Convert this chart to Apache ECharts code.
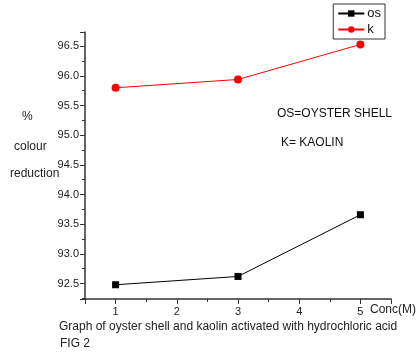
<!DOCTYPE html>
<html><head><meta charset="utf-8">
<script src="https://cdn.jsdelivr.net/npm/echarts@6/dist/echarts.min.js"></script>
<style>html,body{margin:0;padding:0;background:#fff}#c{width:416px;height:358px}</style>
</head><body><div id="c"></div>
<script>
const conc = [1, 3, 5];
const osValues = [92.48, 92.62, 93.66];
const kValues = [95.80, 95.94, 96.53];
const seriesNames = ['os', 'k'];

const chart = echarts.init(document.getElementById('c'));
const F = '"Liberation Sans", Arial, sans-serif';
const axisCol = '#333';
chart.setOption({
  animation: false,
  grid: {left: 85, right: 25, top: 32, bottom: 59},
  legend: {
    right: 31, top: 4, orient: 'vertical', itemGap: 3, itemWidth: 26, itemHeight: 8,
    padding: [3, 4, 3, 4], borderColor: '#333', borderWidth: 1,
    textStyle: {fontFamily: F, fontSize: 13, color: '#111', padding: [0,0,0,-2]},
    data: seriesNames
  },
  xAxis: {
    type: 'value', min: 0.5, max: 5.5, splitNumber: 5,
    axisLine: {lineStyle: {color: axisCol, width: 1.5}},
    axisTick: {length: 5, lineStyle: {color: axisCol}},
    minorTick: {show: true, splitNumber: 2, length: 3, lineStyle: {color: axisCol}},
    splitLine: {show: false},
    axisLabel: {fontFamily: F, fontSize: 11, color: '#222', margin: 7,
      formatter: v => Number.isInteger(v) ? String(v) : ''}
  },
  yAxis: {
    type: 'value', min: 92.24, max: 96.74, splitNumber: 9,
    axisLine: {show: true, lineStyle: {color: axisCol, width: 1.5}},
    axisTick: {show: true, length: 5, lineStyle: {color: axisCol}},
    minorTick: {show: true, splitNumber: 2, length: 3, lineStyle: {color: axisCol}},
    splitLine: {show: false},
    axisLabel: {fontFamily: F, fontSize: 11, color: '#222', margin: 6,
      formatter: v => (Math.abs(v*2 - Math.round(v*2)) < 1e-6) ? v.toFixed(1) : ''}
  },
  graphic: [
    {type: 'text', left: 22, top: 111, style: {text: '%', font: '12px ' + F, fill: '#222'}},
    {type: 'text', left: 14, top: 141, style: {text: 'colour', font: '12px ' + F, fill: '#222'}},
    {type: 'text', left: 10, top: 168, style: {text: 'reduction', font: '12px ' + F, fill: '#222'}},
    {type: 'text', left: 277, top: 108, style: {text: 'OS=OYSTER SHELL', font: '12px ' + F, fill: '#111'}},
    {type: 'text', left: 281, top: 137, style: {text: 'K= KAOLIN', font: '12px ' + F, fill: '#111'}},
    {type: 'text', left: 370, top: 304, style: {text: 'Conc(M)', font: '12px ' + F, fill: '#222'}},
    {type: 'text', left: 59, top: 321, style: {text: 'Graph of oyster shell and kaolin activated with hydrochloric acid', font: '12px ' + F, fill: '#222'}},
    {type: 'text', left: 60, top: 338, style: {text: 'FIG 2', font: '12px ' + F, fill: '#222'}}
  ],
  series: [
    {name: 'os', type: 'line', data: conc.map((c,i)=>[c, osValues[i]]),
     symbol: 'rect', symbolSize: 7, lineStyle: {color: '#000', width: 1}, itemStyle: {color: '#000'}},
    {name: 'k', type: 'line', data: conc.map((c,i)=>[c, kValues[i]]),
     symbol: 'circle', symbolSize: 8, lineStyle: {color: '#f00', width: 1}, itemStyle: {color: '#f00'}}
  ]
});
</script></body></html>
